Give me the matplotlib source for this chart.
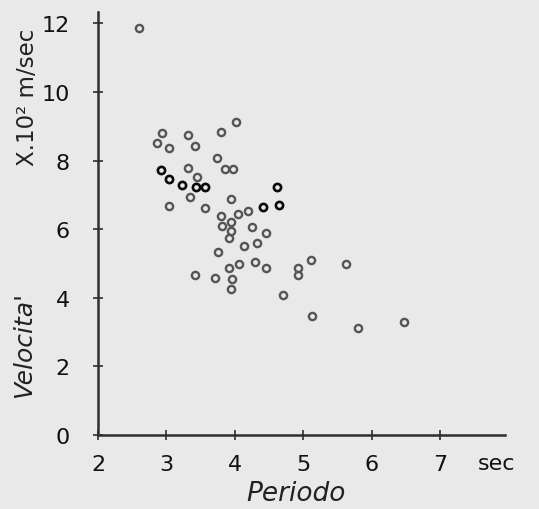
#!/usr/bin/env python3

# ========================================================================
#
# Imports
#
# ========================================================================
import matplotlib

matplotlib.use("Agg")
import matplotlib.pyplot as plt


# ========================================================================
#
# Data
#
# ========================================================================
# period [sec], velocity [x10^2 m/sec]
period_grey = [
    2.60, 2.94, 2.86, 3.03, 3.32, 3.42, 3.80, 4.01, 3.74, 3.86,
    3.97, 3.32, 3.45, 3.34, 3.04, 3.56, 3.94, 4.04, 4.19, 3.80,
    3.94, 3.81, 3.95, 3.91, 4.25, 4.46, 4.13, 4.33, 3.75, 4.06,
    3.92, 3.96, 4.30, 4.45, 3.42, 3.71, 3.94, 4.70, 5.12, 4.92,
    4.92, 5.62, 5.13, 5.80, 6.47,
]
speed_grey = [
    11.86, 8.79, 8.51, 8.37, 8.75, 8.42, 8.84, 9.11, 8.07, 7.74,
    7.74, 7.79, 7.52, 6.95, 6.66, 6.63, 6.87, 6.44, 6.53, 6.37,
    6.21, 6.08, 5.94, 5.74, 6.05, 5.90, 5.51, 5.61, 5.34, 4.98,
    4.86, 4.56, 5.03, 4.86, 4.65, 4.59, 4.25, 4.08, 5.10, 4.88,
    4.66, 4.98, 3.47, 3.13, 3.30,
]
# darker printed markers
period_dark = [2.92, 3.03, 3.22, 3.43, 3.56, 4.61, 4.41, 4.64]
speed_dark = [7.72, 7.46, 7.30, 7.24, 7.24, 7.24, 6.64, 6.71]

xticks = [2, 3, 4, 5, 6, 7]
yticks = [0, 2, 4, 6, 8, 10, 12]

paper = "#e9e9e9"
ink = "#2e2e2e"


# ========================================================================
#
# Main
#
# ========================================================================
if __name__ == "__main__":

    plt.rc("font", family="DejaVu Sans")

    fig = plt.figure(figsize=(5.39, 5.10), dpi=100, facecolor=paper)
    ax = fig.add_axes([0.182, 0.145, 0.755, 0.829], facecolor=paper)

    # ========================================================================
    # Points
    ax.plot(
        period_grey,
        speed_grey,
        ls="none",
        marker="o",
        ms=5.2,
        mew=1.7,
        mfc="none",
        mec="#555555",
        clip_on=False,
    )
    ax.plot(
        period_dark,
        speed_dark,
        ls="none",
        marker="o",
        ms=5.2,
        mew=1.9,
        mfc="none",
        mec="#0a0a0a",
        clip_on=False,
    )

    # ========================================================================
    # Axes
    ax.set_xlim(2, 7.95)
    ax.set_ylim(0, 12.32)
    for side in ["top", "right"]:
        ax.spines[side].set_visible(False)
    for side in ["left", "bottom"]:
        ax.spines[side].set_color(ink)
        ax.spines[side].set_linewidth(1.8)

    ax.set_xticks(xticks)
    ax.set_yticks(yticks)
    ax.set_xticklabels([str(v) for v in xticks])
    ax.set_yticklabels([str(v) for v in yticks])
    ax.tick_params(
        axis="x", direction="inout", length=7, width=1.2, color=ink,
        labelsize=16, pad=10, labelcolor="#111111",
    )
    ax.tick_params(
        axis="y", direction="inout", length=7, width=1.2, color=ink,
        labelsize=16, pad=17, labelcolor="#111111",
    )

    ax.text(7.83, -0.82, "sec", fontsize=16, ha="center", va="center",
            color="#111111", clip_on=False)

    # ========================================================================
    # Labels
    fig.text(296 / 539, 1 - 494 / 510, "Periodo", fontsize=19,
             style="italic", ha="center", va="center", color="#222222")
    fig.text(24 / 539, 1 - 345 / 510, "Velocita'", fontsize=18,
             style="italic", rotation=90, ha="center", va="center",
             color="#222222")
    fig.text(27 / 539, 1 - 97 / 510, "X.10² m/sec", fontsize=16.5,
             rotation=90, ha="center", va="center", color="#222222")

    fig.savefig("out.png", dpi=100, facecolor=paper)
